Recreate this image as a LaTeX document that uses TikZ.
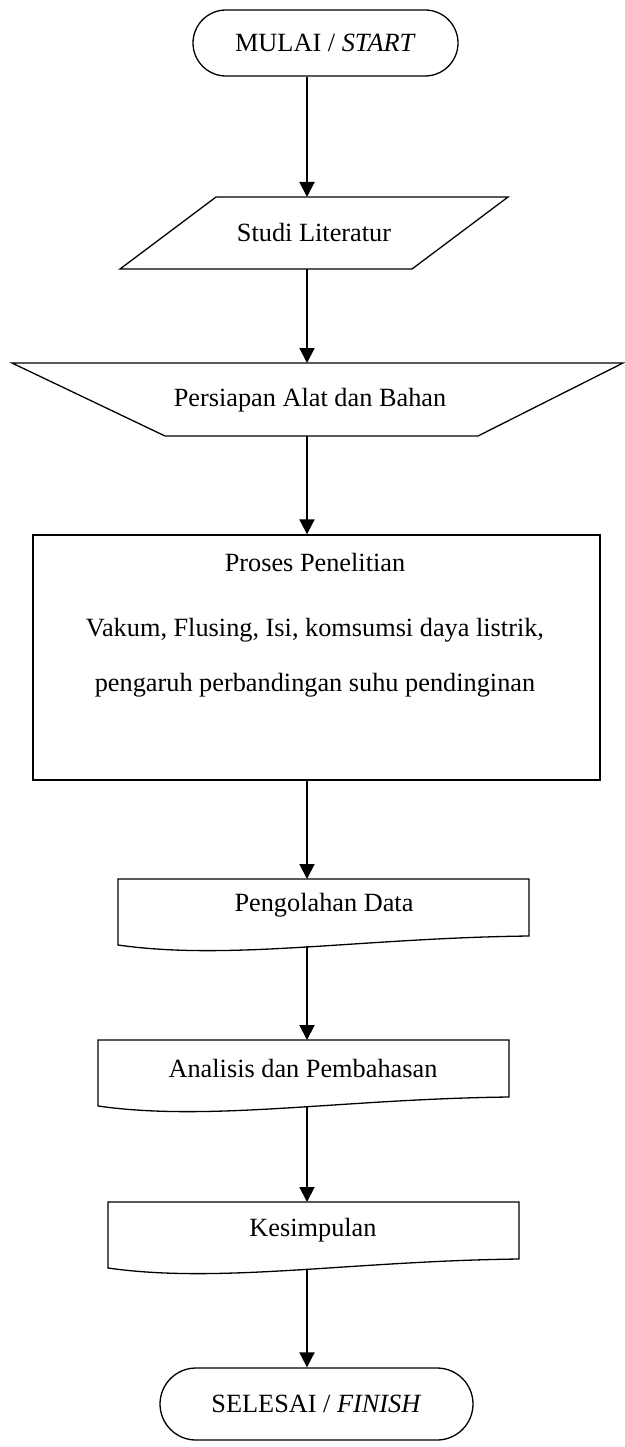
\documentclass[tikz,border=0pt]{standalone}
\usepackage{fontspec}
\setmainfont{Liberation Serif}
\usetikzlibrary{arrows.meta,calc}
\newcommand\drawdoc[1]{\draw[box] (#1.north west) -- (#1.north east) -- ([yshift=15pt]#1.south east) .. controls ([xshift=-169pt,yshift=13pt]#1.south east) and ([xshift=112pt,yshift=-10pt]#1.south west) .. ([yshift=6pt]#1.south west) -- cycle;}
\begin{document}
\begin{tikzpicture}[x=1pt,y=-1pt,
  box/.style={draw, line width=1.3pt},
  ghost/.style={inner sep=0pt, outer sep=0pt},
  txt/.style={font=\fontsize{26.3}{30}\selectfont, inner sep=0pt},
  conn/.style={line width=1.9pt, -{Triangle[length=15pt,width=15pt]}}
]
\useasboundingbox (0,0) rectangle (624,1447);
\coordinate (axis) at (307,0);

% start
\node[box, txt, rounded corners=33pt, minimum width=265pt, minimum height=66pt] (start) at (325.5,43) {MULAI / \textit{START}};

% studi literatur (parallelogram)
\node[ghost, txt, minimum width=388pt, minimum height=72pt] (lit) at (314,233) {Studi Literatur};
\draw[box] ([xshift=96pt]lit.north west) -- (lit.north east) -- ([xshift=-96pt]lit.south east) -- (lit.south west) -- cycle;

% persiapan (trapezoid)
\node[ghost, minimum width=611pt, minimum height=73pt] (prep) at (317.5,399.5) {};
\draw[box] (prep.north west) -- (prep.north east) -- ([xshift=-145pt]prep.south east) -- ([xshift=153pt]prep.south west) -- cycle;
\node[txt] (prep-t) at (310,400) {Persiapan Alat dan Bahan};

% proses
\node[box, minimum width=567pt, minimum height=245pt] (proc) at (316.5,657.5) {};
\node[txt] (proc-t1) at (315,562) {Proses Penelitian};
\node[txt] (proc-t2) at (315,630) {Vakum, Flusing, Isi, komsumsi daya listrik,};
\node[txt] (proc-t3) at (315,685) {pengaruh perbandingan suhu pendinginan};

% documents
\node[ghost, minimum width=411pt, minimum height=72pt] (d1) at (323.5,915) {};
\drawdoc{d1}
\node[txt] (d1-t) at (324,905) {Pengolahan Data};

\node[ghost, minimum width=411pt, minimum height=72pt] (d2) at (303.5,1076) {};
\drawdoc{d2}
\node[txt] (d2-t) at (303,1068) {Analisis dan Pembahasan};

\node[ghost, minimum width=411pt, minimum height=72pt] (d3) at (313.5,1238) {};
\drawdoc{d3}
\node[txt] (d3-t) at (313,1230) {Kesimpulan};

% finish
\node[box, txt, rounded corners=36pt, minimum width=313pt, minimum height=72pt] (finish) at (316.5,1404) {SELESAI / \textit{FINISH}};

% connectors
\draw[conn] (start.south -| axis) -- (lit.north -| axis);
\draw[conn] (lit.south -| axis) -- (prep.north -| axis);
\draw[conn] (prep.south -| axis) -- (proc.north -| axis);
\draw[conn] (proc.south -| axis) -- (d1.north -| axis);
\draw[conn] ($(d1.south -| axis)+(0,-5)$) -- (d2.north -| axis);
\draw[conn] ($(d2.south -| axis)+(0,-5)$) -- (d3.north -| axis);
\draw[conn] ($(d3.south -| axis)+(0,-5)$) -- (finish.north -| axis);
\end{tikzpicture}
\end{document}
